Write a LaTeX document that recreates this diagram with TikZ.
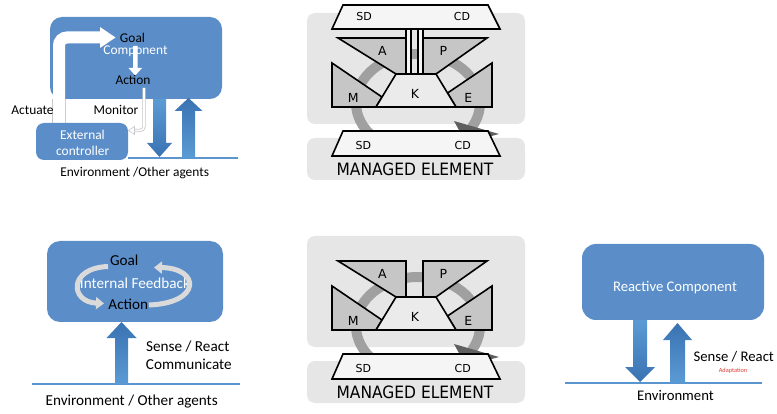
\documentclass[tikz,border=0pt]{standalone}
\usepackage{fontspec}
\setmainfont{Carlito}
\newfontfamily\partfont{DejaVu Sans}
\newfontfamily\mefont[FakeStretch=0.91]{DejaVu Sans}
\usetikzlibrary{arrows.meta}

\definecolor{boxblue}{HTML}{5B8EC9}
\definecolor{arrowlight}{HTML}{5B9BD5}
\definecolor{arrowdark}{HTML}{3A72B2}
\definecolor{groundblue}{HTML}{5B95D0}
\definecolor{panelgray}{HTML}{E6E6E6}
\definecolor{ringgray}{HTML}{A0A0A0}
\definecolor{tipgray}{HTML}{5F5F5F}
\definecolor{partgray}{HTML}{C6C6C6}
\definecolor{kgray}{HTML}{EBEBEB}
\definecolor{slabgray}{HTML}{F5F5F5}
\definecolor{outline}{HTML}{C8C8C8}
\definecolor{loopgray}{HTML}{DADADA}
\definecolor{adaptred}{HTML}{E03A2F}

\tikzset{
  tl/.style={inner sep=0pt, anchor=base, font=\fontsize{13.4}{16}\selectfont},
  bl/.style={inner sep=0pt, anchor=base, font=\fontsize{15.2}{18}\selectfont},
  rl/.style={inner sep=0pt, anchor=base, font=\fontsize{14.7}{17}\selectfont},
  ml/.style={inner sep=0pt, anchor=base, font=\partfont\fontsize{12.5}{15}\selectfont},
  sl/.style={inner sep=0pt, anchor=base, font=\partfont\fontsize{11}{13}\selectfont},
  mel/.style={inner sep=0pt, anchor=base, font=\mefont\fontsize{17}{20}\selectfont},
  part/.style={draw=black, line width=1.6pt, fill=partgray, line join=miter},
  kpart/.style={draw=black, line width=1.6pt, fill=kgray, line join=miter},
  slab/.style={draw=black, line width=1.6pt, fill=slabgray, line join=miter},
  ground/.style={draw=groundblue, line width=1.5pt},
  loop/.style={draw=loopgray, line width=5pt, -{Triangle[width=12pt,length=8pt]}},
}

% block arrows: centre x, base y, tip y, shaft half width, head half width, head length
\newcommand\uparr[6]{%
  \shade[top color=arrowdark, bottom color=arrowlight]
    (#1-#4,#2) -- (#1-#4,#3+#6) -- (#1-#5,#3+#6) -- (#1,#3) --
    (#1+#5,#3+#6) -- (#1+#4,#3+#6) -- (#1+#4,#2) -- cycle;}
\newcommand\downarr[6]{%
  \shade[top color=arrowlight, bottom color=arrowdark]
    (#1-#4,#2) -- (#1-#4,#3-#6) -- (#1-#5,#3-#6) -- (#1,#3) --
    (#1+#5,#3-#6) -- (#1+#4,#3-#6) -- (#1+#4,#2) -- cycle;}

% MAPE-K autonomic manager over a managed element; #1 name suffix, #2 vertical offset
\newcommand\mapek[2]{%
  \begin{scope}[shift={(0,#2)}]
    \fill[panelgray, rounded corners=8pt] (307,13) rectangle (525,124);
    \fill[panelgray, rounded corners=8pt] (307,138) rectangle (525,180);
    \draw[ringgray, line width=10pt] (418,103) ellipse [x radius=62pt, y radius=49pt];
    \fill[tipgray] (454,121) -- (499,134) -- (466,143) -- cycle;
    \draw[part] (338,38) -- (406,38) -- (406,74) -- (396,74) -- cycle;
    \draw[part] (423,38) -- (487,38) -- (436,74) -- (423,74) -- cycle;
    \draw[part] (332,63) -- (382,97) -- (376,107) -- (332,107) -- cycle;
    \draw[part] (492,63) -- (492,107) -- (456,107) -- (447.5,93) -- cycle;
    \draw[kpart] (396,74) -- (436,74) -- (456,107) -- (376,107) -- cycle;
    \draw[slab] (343,131) -- (488,131) -- (500,156) -- (332,156) -- cycle;
    \node[ml] (A#1) at (382.3,55.7) {A};
    \node[ml] (P#1) at (443.3,55.7) {P};
    \node[ml] (M#1) at (353.3,102.7) {M};
    \node[ml] (E#1) at (468.3,102.7) {E};
    \node[ml] (K#1) at (415,99) {K};
    \node[sl] (sdlow#1) at (363.3,149.3) {SD};
    \node[sl] (cdlow#1) at (462.8,149.3) {CD};
    \node[mel] (me#1) at (415,175.7) {MANAGED ELEMENT};
  \end{scope}}

\begin{document}
\begin{tikzpicture}[x=1pt,y=-1pt]
\useasboundingbox (0,0) rectangle (777,414);

% ---------- agent steered by an external controller
\fill[boxblue, rounded corners=12pt] (50,17) rectangle (222,99);
\coordinate (act0) at (59,123);
\coordinate (act1) at (59,37.5);
\coordinate (act2) at (101,37.5);
\draw[outline, line width=0.7pt] (52.6,99) -- (52.6,123) (65.4,99) -- (65.4,123);
\draw[white, line width=12pt, rounded corners=8pt] (act0) -- (act1) -- (act2);
\fill[white] (100,27) -- (115.5,37.5) -- (100,48) -- cycle;

\node[tl] (goal1) at (132.5,42.7) {Goal};
\node[tl, text=white] (comp1) at (135.5,55) {Component};
\node[tl] (action1) at (133,85) {Action};
\fill[white] (133,46) -- (133,68) -- (128.5,68) -- (135.25,75.5) -- (142,68) -- (137.5,68) -- (137.5,46) -- cycle;

\coordinate (mon0) at (144,88);
\coordinate (mon1) at (144,130.5);
\coordinate (mon2) at (134,130.5);
\draw[outline, line width=3.2pt, rounded corners=4pt] (mon0) -- (mon1) -- (mon2);
\draw[white, line width=1.6pt, rounded corners=4pt] (mon0) -- (mon1) -- (mon2);
\filldraw[fill=white, draw=outline, line width=0.6pt] (134.5,126.5) -- (128.5,130.5) -- (134.5,134.5) -- cycle;

\fill[boxblue, rounded corners=8pt] (36,123) rectangle (128,160);
\node[tl, text=white] (ext1) at (82.5,140) {External};
\node[tl, text=white] (ext2) at (82.7,156) {controller};

\draw[ground] (128,158) -- (238,158);
\downarr{159.5}{99}{157}{6.5}{12.5}{14}
\uparr{188.5}{158}{98}{6.5}{14}{13}

\node[tl] (actuate) at (32.5,114.3) {Actuate};
\node[tl] (monitor) at (116,114.3) {Monitor};
\node[tl] (env1) at (134.7,176.7) {Environment /Other agents};

% ---------- autonomic manager with its own touchpoint
\mapek{top}{0}
\draw[slab] (406,29) rectangle (411,74);
\draw[slab] (418,29) rectangle (423,74);
\draw[slab] (343,5) -- (488,5) -- (500,29) -- (332,29) -- cycle;
\node[sl] (sdtop) at (364.2,20.7) {SD};
\node[sl] (cdtop) at (462,20.7) {CD};

% ---------- autonomic manager, plain
\mapek{bot}{223}

% ---------- agent with internal feedback
\fill[boxblue, rounded corners=13pt] (47,241) rectangle (223,322);
\node[bl] (goal2) at (124.2,266) {Goal};
\node[bl, text=white] (fb) at (135,288.3) {Internal Feedback};
\node[bl] (action2) at (128.3,309.3) {Action};
\draw[loop] (108,266.5) .. controls (68,268) and (70,302) .. (104,303.5);
\draw[loop] (149,305) .. controls (202,303) and (200,268) .. (154,267.5);

\draw[ground] (32,384) -- (240,384);
\uparr{121.5}{384}{322}{6.5}{15}{16}
\node[bl, anchor=base west] (sense2) at (146,351) {Sense / React};
\node[bl, anchor=base west] (comm) at (145.7,370) {Communicate};
\node[bl] (env2) at (131.7,405.7) {Environment / Other agents};

% ---------- purely reactive component
\fill[boxblue, rounded corners=14pt] (582,244) rectangle (764,320);
\node[rl, text=white] (react) at (675,291.7) {Reactive Component};
\draw[ground] (565,383) -- (762,383);
\downarr{640}{320}{382}{7}{15}{15}
\uparr{677.5}{383}{323}{7.5}{14.5}{17}
\node[rl, anchor=base west] (sense3) at (693.3,361.7) {Sense / React};
\node[inner sep=0pt, anchor=base, text=adaptred, font=\fontsize{6.3}{7}\selectfont] (adapt) at (733,372.5) {Adaptation};
\node[rl] (env3) at (675.5,400.7) {Environment};
\end{tikzpicture}
\end{document}
